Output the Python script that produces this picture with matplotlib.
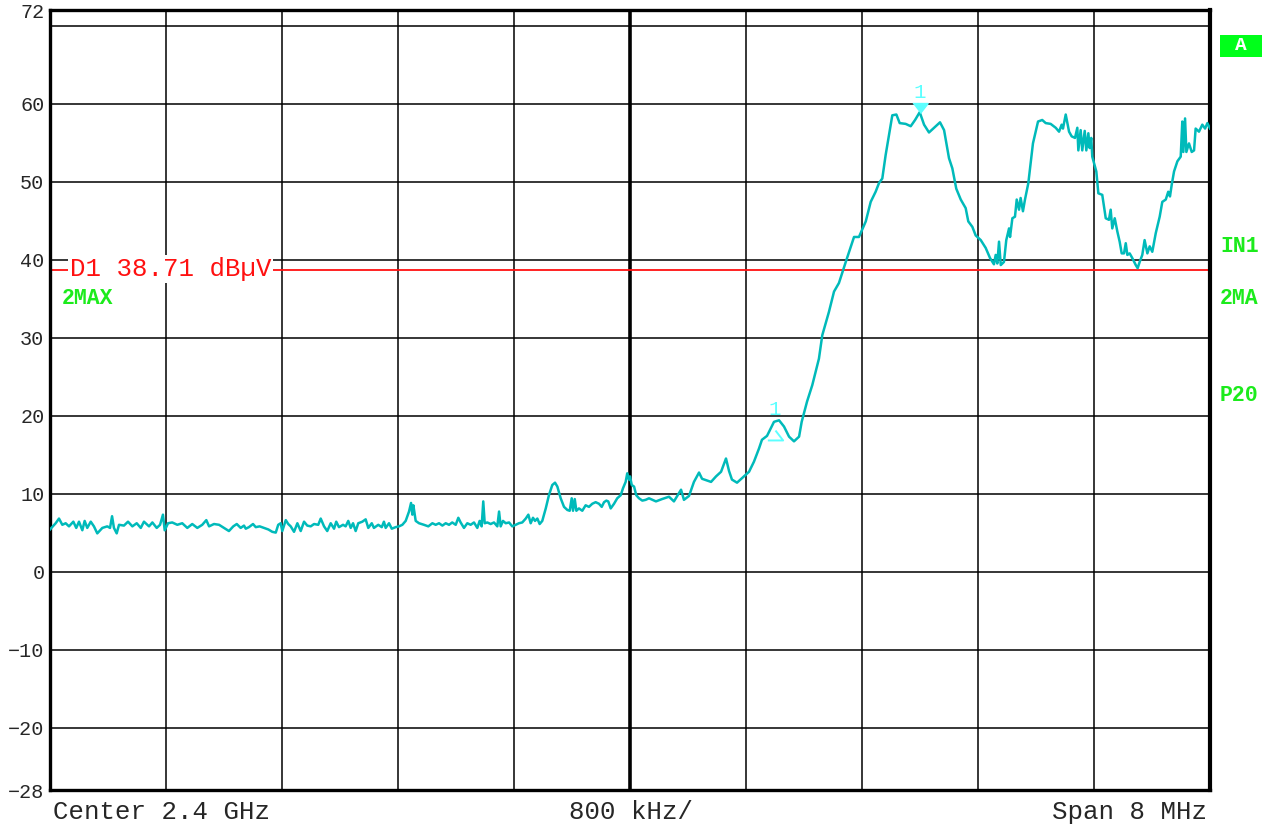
import numpy as np
import matplotlib
matplotlib.use("Agg")
import matplotlib.pyplot as plt
from matplotlib.patches import Rectangle
from matplotlib.transforms import offset_copy

# Sweep: frequency offset from the 2.4 GHz centre (MHz) and max-hold level (dBuV)
freq_mhz = [
    -4.000, -3.961, -3.938, -3.915, -3.892, -3.869, -3.839, -3.819, -3.800, -3.777,
    -3.761, -3.743, -3.719, -3.697, -3.674, -3.639, -3.605, -3.586, -3.572, -3.559,
    -3.540, -3.524, -3.490, -3.462, -3.432, -3.402, -3.374, -3.352, -3.317, -3.294,
    -3.264, -3.241, -3.221, -3.209, -3.186, -3.157, -3.122, -3.088, -3.053, -3.019,
    -2.984, -2.950, -2.922, -2.903, -2.869, -2.834, -2.800, -2.766, -2.736, -2.712,
    -2.685, -2.662, -2.650, -2.628, -2.600, -2.581, -2.554, -2.524, -2.494, -2.467,
    -2.443, -2.426, -2.409, -2.398, -2.374, -2.357, -2.340, -2.317, -2.294, -2.271,
    -2.248, -2.226, -2.202, -2.179, -2.150, -2.133, -2.110, -2.088, -2.064, -2.041,
    -2.026, -2.007, -1.979, -1.961, -1.943, -1.926, -1.910, -1.892, -1.874, -1.846,
    -1.823, -1.805, -1.781, -1.766, -1.736, -1.712, -1.697, -1.685, -1.662, -1.643,
    -1.616, -1.593, -1.570, -1.547, -1.524, -1.510, -1.501, -1.494, -1.478, -1.455,
    -1.421, -1.391, -1.363, -1.340, -1.317, -1.294, -1.271, -1.248, -1.226, -1.202,
    -1.184, -1.168, -1.145, -1.122, -1.099, -1.076, -1.053, -1.037, -1.023, -1.012,
    -1.002, -0.984, -0.961, -0.938, -0.915, -0.903, -0.892, -0.876, -0.857, -0.834,
    -0.812, -0.788, -0.766, -0.743, -0.719, -0.701, -0.685, -0.669, -0.655, -0.639,
    -0.623, -0.605, -0.581, -0.559, -0.536, -0.517, -0.501, -0.478, -0.455, -0.432,
    -0.416, -0.402, -0.393, -0.381, -0.370, -0.352, -0.329, -0.306, -0.283, -0.260,
    -0.237, -0.214, -0.195, -0.179, -0.163, -0.150, -0.133, -0.110, -0.088, -0.064,
    -0.048, -0.030, -0.019, -0.007, 0.000, 0.012, 0.028, 0.043, 0.062, 0.085,
    0.108, 0.131, 0.179, 0.221, 0.269, 0.303, 0.352, 0.372, 0.407, 0.441,
    0.476, 0.497, 0.559, 0.593, 0.628, 0.662, 0.683, 0.703, 0.738, 0.786,
    0.821, 0.855, 0.890, 0.910, 0.945, 0.993, 1.028, 1.062, 1.097, 1.131,
    1.166, 1.184, 1.221, 1.257, 1.303, 1.326, 1.372, 1.407, 1.441, 1.488,
    1.545, 1.579, 1.626, 1.660, 1.694, 1.717, 1.740, 1.763, 1.809, 1.837,
    1.860, 1.901, 1.936, 1.966, 1.998, 2.028, 2.062, 2.097, 2.138, 2.166,
    2.200, 2.223, 2.250, 2.281, 2.315, 2.333, 2.361, 2.384, 2.419, 2.453,
    2.483, 2.510, 2.522, 2.533, 2.545, 2.557, 2.579, 2.595, 2.614, 2.621,
    2.637, 2.655, 2.667, 2.683, 2.694, 2.710, 2.724, 2.747, 2.779, 2.814,
    2.843, 2.867, 2.901, 2.936, 2.959, 2.977, 2.986, 3.005, 3.028, 3.046,
    3.069, 3.085, 3.092, 3.108, 3.119, 3.136, 3.147, 3.161, 3.170, 3.181,
    3.188, 3.216, 3.230, 3.257, 3.281, 3.303, 3.315, 3.326, 3.343, 3.361,
    3.377, 3.391, 3.407, 3.419, 3.430, 3.446, 3.464, 3.488, 3.501, 3.515,
    3.533, 3.549, 3.568, 3.584, 3.602, 3.626, 3.653, 3.671, 3.695, 3.712,
    3.724, 3.736, 3.752, 3.775, 3.798, 3.809, 3.816, 3.828, 3.837, 3.855,
    3.874, 3.890, 3.901, 3.924, 3.947, 3.966, 3.982, 4.000,
]
level_dbuv = [
    5.4, 6.2, 6.8, 6.0, 6.2, 5.8, 6.4, 5.6, 6.4, 5.3,
    6.5, 5.6, 6.4, 5.8, 4.9, 5.6, 5.8, 5.6, 7.1, 5.6,
    4.9, 6.0, 5.9, 6.4, 5.8, 6.2, 5.6, 6.4, 5.8, 6.3,
    5.6, 6.0, 7.3, 5.3, 6.2, 6.3, 6.0, 6.2, 5.6, 6.1,
    5.6, 6.0, 6.6, 5.8, 6.1, 6.0, 5.6, 5.2, 5.8, 6.1,
    5.6, 5.9, 5.5, 5.7, 6.1, 5.7, 5.8, 5.6, 5.4, 5.1,
    5.0, 6.0, 6.2, 5.2, 6.6, 6.1, 5.8, 5.1, 6.2, 5.2,
    6.4, 5.9, 5.8, 6.1, 6.0, 6.8, 5.8, 5.2, 6.2, 5.5,
    6.4, 5.7, 6.0, 5.8, 6.5, 5.6, 6.2, 5.2, 6.2, 6.4,
    6.7, 5.6, 6.2, 5.6, 6.0, 5.7, 6.4, 5.6, 6.2, 5.5,
    5.7, 5.8, 6.0, 6.5, 7.7, 8.8, 7.3, 8.5, 6.5, 6.2,
    6.0, 5.8, 6.2, 6.0, 6.2, 5.9, 6.2, 6.0, 6.3, 6.0,
    6.9, 6.3, 5.6, 6.2, 6.0, 6.3, 5.6, 6.5, 5.8, 9.0,
    6.2, 6.3, 6.1, 6.3, 5.8, 7.7, 5.8, 6.5, 6.2, 6.3,
    5.8, 6.0, 6.2, 6.3, 6.8, 7.3, 6.2, 6.9, 6.5, 6.8,
    6.1, 6.5, 8.1, 9.8, 11.1, 11.4, 10.9, 9.4, 8.3, 7.9,
    7.8, 9.4, 7.8, 9.3, 7.8, 8.1, 7.8, 8.5, 8.3, 8.7,
    8.9, 8.7, 8.3, 8.9, 9.1, 9.0, 8.1, 8.7, 9.4, 9.8,
    10.7, 11.5, 12.6, 11.8, 12.2, 11.1, 10.9, 9.8, 9.4, 9.1,
    9.2, 9.4, 9.0, 9.3, 9.6, 9.0, 10.5, 9.2, 9.7, 11.5,
    12.7, 11.9, 11.5, 12.2, 12.8, 14.5, 12.9, 11.8, 11.4, 12.2,
    12.8, 14.1, 15.8, 16.9, 17.4, 19.2, 19.4, 18.6, 17.3, 16.7,
    17.3, 19.2, 21.8, 23.9, 27.3, 30.3, 33.3, 35.9, 37.0, 39.7,
    42.9, 42.9, 44.9, 47.4, 48.7, 49.8, 50.4, 53.4, 58.5, 58.6,
    57.5, 57.4, 57.1, 57.9, 58.9, 57.3, 56.3, 56.9, 57.6, 56.6,
    53.0, 51.7, 49.1, 47.7, 46.6, 44.9, 44.2, 43.1, 42.5, 41.5,
    40.2, 39.4, 40.6, 39.5, 42.3, 39.3, 39.7, 42.5, 44.0, 42.9,
    45.3, 45.5, 47.7, 46.4, 47.9, 46.2, 47.7, 49.8, 54.9, 57.7,
    57.9, 57.5, 57.4, 56.9, 56.4, 57.3, 56.8, 58.6, 56.4, 55.8,
    55.6, 56.9, 54.0, 56.6, 54.0, 56.5, 54.0, 56.2, 54.3, 55.6,
    53.2, 51.3, 48.5, 48.3, 45.3, 45.1, 46.4, 44.0, 45.3, 43.6,
    42.3, 40.8, 40.8, 42.1, 40.6, 40.8, 40.2, 39.3, 38.9, 39.7,
    40.6, 42.5, 40.8, 41.7, 41.0, 43.4, 45.5, 47.4, 47.7, 48.7,
    48.1, 49.6, 51.3, 52.6, 53.2, 57.7, 53.8, 58.1, 53.8, 54.9,
    53.8, 54.0, 56.8, 56.4, 57.3, 56.8, 57.5, 56.8,
]

# Scale and annotations
y_label_values = [72, 60, 50, 40, 30, 20, 10, 0, -10, -20, -28]
grid_levels = [70, 60, 50, 40, 30, 20, 10, 0, -10, -20]
freq_divisions = [-3.2, -2.4, -1.6, -0.8, 0.0, 0.8, 1.6, 2.4, 3.2]
display_line_dbuv = 38.71
peak_marker_mhz = 2.0
delta_marker_mhz = 1.0
side_labels = ["IN1", "2MA", "P20"]

TRACE = "#00BABA"
MARKER = "#5CFFFF"
GREEN = "#1CEB1C"
INK = "#262626"
MONO = ["Liberation Mono", "DejaVu Sans Mono"]

W, H = 1276, 827
fig = plt.figure(figsize=(W / 100, H / 100), dpi=100)
fig.patch.set_facecolor("white")
ax = fig.add_axes([50 / W, 1 - 790 / H, 1160 / W, 780 / H])
ax.set_xlim(-4, 4)
ax.set_ylim(-28, 72)

for g in grid_levels:
    ax.axhline(g, color="black", lw=1.1, zorder=1)
for v in freq_divisions:
    ax.axvline(v, color="black", lw=2.6 if v == 0 else 1.1, zorder=1)
for side, s in ax.spines.items():
    s.set_linewidth(3.0 if side == "right" else 2.4)
    s.set_color("black")

ax.set_xticks([])
ax.set_yticks(y_label_values)
ax.set_yticklabels([str(v).replace("-", "\u2212") for v in y_label_values],
                   family=MONO, fontsize=14.5, color=INK)
ax.tick_params(axis="y", length=0, pad=4)

# Display line with its inline label
ax.axhline(display_line_dbuv, color="#FF1010", lw=1.3, zorder=2)
ax.text(-3.865, display_line_dbuv + 0.1, f"D1 {display_line_dbuv:.2f} dB\u00b5V",
        family=MONO, fontsize=18.5, color="#FF1010", va="center", ha="left",
        zorder=4, bbox=dict(facecolor="white", edgecolor="none", pad=1.5))

# Trace
ax.plot(freq_mhz, level_dbuv, color=TRACE, lw=1.8, zorder=3, solid_joinstyle="round")

# Markers
peak_level = float(np.interp(peak_marker_mhz, freq_mhz, level_dbuv))
delta_level = float(np.interp(delta_marker_mhz, freq_mhz, level_dbuv))
down_tri = [(-1, 0.65), (1, 0.65), (0, -0.65)]
up_tri = [(-1, -0.65), (1, -0.65), (0, 0.65)]
ax.plot([peak_marker_mhz], [peak_level], marker=down_tri, ms=11, color=MARKER,
        mec=MARKER, ls="none", zorder=5,
        transform=offset_copy(ax.transData, fig=fig, y=3.6, units="points"))
ax.annotate("1", (peak_marker_mhz, peak_level), xytext=(0, 15),
            textcoords="offset points", ha="center", va="center",
            family=MONO, fontsize=15, color=MARKER, zorder=5)
ax.plot([delta_marker_mhz], [delta_level], marker=up_tri, ms=11, mfc="none",
        mec=MARKER, mew=1.4, ls="none", zorder=5,
        transform=offset_copy(ax.transData, fig=fig, y=-9.5, units="points"))
ax.annotate("1", (delta_marker_mhz, delta_level), xytext=(0, 9),
            textcoords="offset points", ha="center", va="center",
            family=MONO, fontsize=15, color=MARKER, zorder=5)

# Trace / detector info
ax.text((62 - 50) / 1160, 1 - 288 / 780, "2MAX", transform=ax.transAxes, family=MONO,
        fontsize=15.5, fontweight="bold", color=GREEN, ha="left", va="center")
fig.patches.append(Rectangle((1220 / W, 1 - 57 / H), 42 / W, 22 / H,
                             transform=fig.transFigure, facecolor="#00FF1A",
                             edgecolor="none"))
fig.text(1241 / W, 1 - 45 / H, "A", family=MONO, fontsize=14, fontweight="bold",
         color="white", ha="center", va="center")
for lbl, ypx in zip(side_labels, [247, 298, 395]):
    fig.text(1220 / W, 1 - ypx / H, lbl, family=MONO, fontsize=15.5,
             fontweight="bold", color=GREEN, ha="left", va="center")

# Frequency axis annotation
fig.text(53 / W, 1 - 812 / H, "Center 2.4 GHz", family=MONO, fontsize=18.5,
         color=INK, ha="left", va="center")
fig.text(631 / W, 1 - 812 / H, "800 kHz/", family=MONO, fontsize=18.5,
         color=INK, ha="center", va="center")
fig.text(1207 / W, 1 - 812 / H, "Span 8 MHz", family=MONO, fontsize=18.5,
         color=INK, ha="right", va="center")

fig.savefig("out.png", dpi=100, facecolor="white")
